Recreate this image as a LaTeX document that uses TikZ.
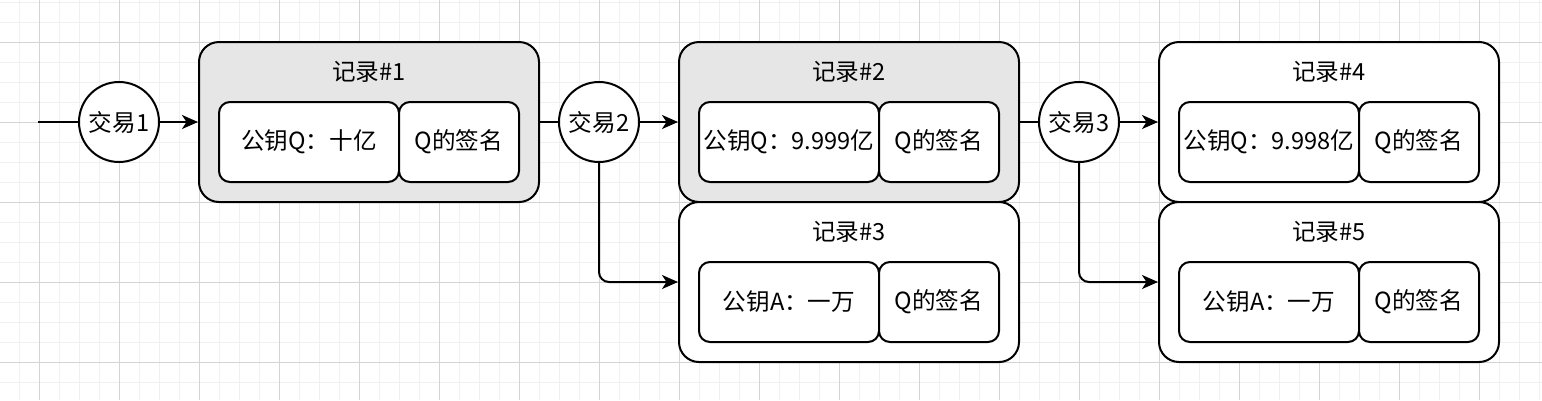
\documentclass[tikz,border=0pt]{standalone}
\usepackage{fontspec}
\setmainfont{Noto Sans CJK SC}
\usetikzlibrary{arrows.meta}
\definecolor{gridminor}{HTML}{F0F0F0}
\definecolor{gridmajor}{HTML}{D4D4D4}
\definecolor{recgray}{HTML}{E6E6E6}
\begin{document}
\begin{tikzpicture}[x=1pt,y=-1pt,
  every node/.style={font=\fontsize{23.6}{28}\selectfont, inner sep=0pt},
  recbox/.style={draw, line width=2pt, rounded corners=20pt, minimum width=340pt, minimum height=160pt, anchor=center},
  keybox/.style={draw, fill=white, line width=2pt, rounded corners=11pt, minimum width=180pt, minimum height=80pt, anchor=center},
  sigbox/.style={draw, fill=white, line width=2pt, rounded corners=11pt, minimum width=120pt, minimum height=80pt, anchor=center},
  txcircle/.style={draw, fill=white, circle, line width=2pt, minimum size=80pt, anchor=center},
  titletext/.style={anchor=center},
  link/.style={line width=2pt},
  arr/.style={line width=2pt, -{Stealth[length=16pt, width=14pt, inset=4.5pt]}}
]
\useasboundingbox (0,0) rectangle (1542,400);
\fill[white] (0,0) rectangle (1542,400);
% grid
\foreach \x in {19,39,...,1539} \draw[gridminor, line width=1pt] (\x,0) -- (\x,400);
\foreach \y in {2,22,...,400} \draw[gridminor, line width=1pt] (0,\y) -- (1542,\y);
\foreach \x in {39,119,...,1539} \draw[gridmajor, line width=1pt] (\x,0) -- (\x,400);
\foreach \y in {42,122,...,400} \draw[gridmajor, line width=1pt] (0,\y) -- (1542,\y);

% records
\node[recbox, fill=recgray] (rec1) at (369,122) {};
\node[titletext] (tt1) at (369,72) {记录\#1};
\node[keybox] (k1) at (309,142) {公钥Q：十亿};
\node[sigbox] (s1) at (459,142) {Q的签名};

\node[recbox, fill=recgray] (rec2) at (849,122) {};
\node[titletext] (tt2) at (849,72) {记录\#2};
\node[keybox] (k2) at (789,142) {公钥Q：9.999亿};
\node[sigbox] (s2) at (939,142) {Q的签名};

\node[recbox, fill=white] (rec3) at (849,282) {};
\node[titletext] (tt3) at (849,232) {记录\#3};
\node[keybox] (k3) at (789,302) {公钥A：一万};
\node[sigbox] (s3) at (939,302) {Q的签名};

\node[recbox, fill=white] (rec4) at (1329,122) {};
\node[titletext] (tt4) at (1329,72) {记录\#4};
\node[keybox] (k4) at (1269,142) {公钥Q：9.998亿};
\node[sigbox] (s4) at (1419,142) {Q的签名};

\node[recbox, fill=white] (rec5) at (1329,282) {};
\node[titletext] (tt5) at (1329,232) {记录\#5};
\node[keybox] (k5) at (1269,302) {公钥A：一万};
\node[sigbox] (s5) at (1419,302) {Q的签名};

% transactions
\node[txcircle] (t1) at (119,122) {交易1};
\node[txcircle] (t2) at (599,122) {交易2};
\node[txcircle] (t3) at (1079,122) {交易3};
\coordinate (start) at (38,122);

% connectors
\draw[link] (start) -- (t1);
\draw[arr] (t1) -- (rec1);
\draw[link] (rec1) -- (t2);
\draw[arr] (t2) -- (rec2);
\draw[arr, rounded corners=10pt] (t2.south) |- (rec3.west);
\draw[link] (rec2) -- (t3);
\draw[arr] (t3) -- (rec4);
\draw[arr, rounded corners=10pt] (t3.south) |- (rec5.west);
\end{tikzpicture}
\end{document}
